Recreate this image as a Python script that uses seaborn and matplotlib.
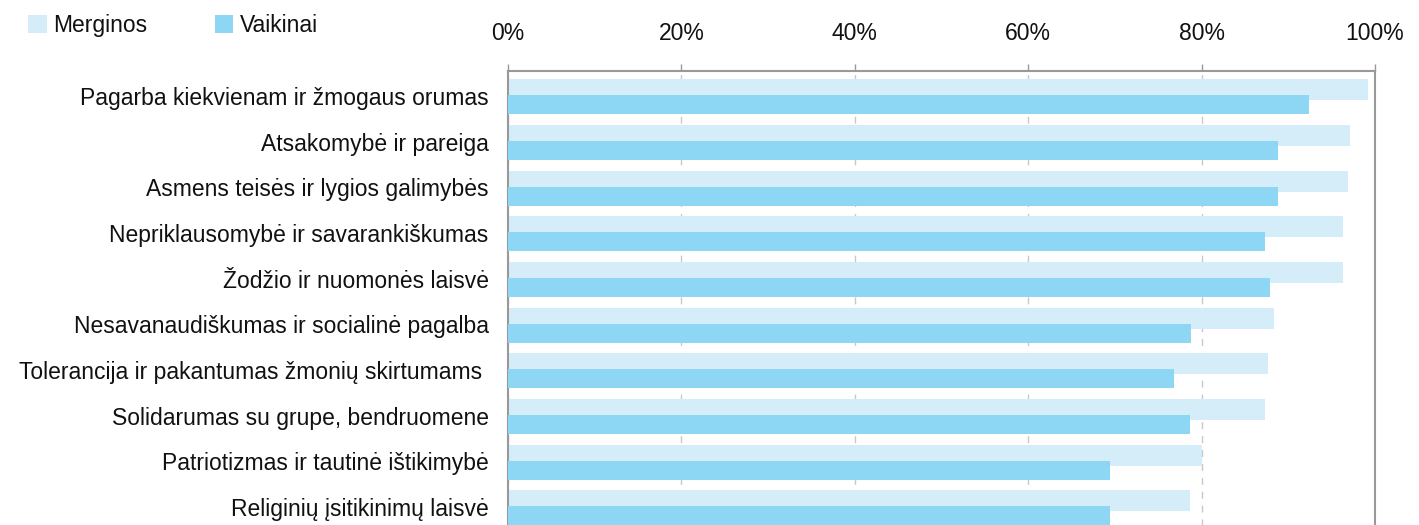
import numpy as np
import pandas as pd
import matplotlib
matplotlib.use("Agg")
import matplotlib.pyplot as plt
import seaborn as sns
from matplotlib.ticker import FixedLocator, FuncFormatter

# Duomenys (nuskaityta iš paveikslo, %)
vertybes = [
    "Pagarba kiekvienam ir žmogaus orumas",
    "Atsakomybė ir pareiga",
    "Asmens teisės ir lygios galimybės",
    "Nepriklausomybė ir savarankiškumas",
    "Žodžio ir nuomonės laisvė",
    "Nesavanaudiškumas ir socialinė pagalba",
    "Tolerancija ir pakantumas žmonių skirtumams ",
    "Solidarumas su grupe, bendruomene",
    "Patriotizmas ir tautinė ištikimybė",
    "Religinių įsitikinimų laisvė",
]
merginos = [99.2, 97.1, 96.9, 96.3, 96.3, 88.4, 87.7, 87.3, 80.0, 78.7]
vaikinai = [92.4, 88.8, 88.8, 87.3, 87.9, 78.8, 76.8, 78.7, 69.4, 69.4]
x_ticks = [0, 20, 40, 60, 80, 100]

spalva_m = "#d5ecf9"
spalva_v = "#8dd7f5"

sns.set_style("white")
plt.rcParams["font.family"] = ["Liberation Sans", "DejaVu Sans"]

poz = np.arange(len(vertybes))
df_m = pd.DataFrame({"y": poz - 0.14, "x": merginos})
df_v = pd.DataFrame({"y": poz + 0.19, "x": vaikinai})

fig = plt.figure(figsize=(14.19, 5.25), dpi=100)
ax = fig.add_axes([508 / 1419, -5 / 525, (1375 - 508) / 1419, (530 - 71) / 525])

sns.barplot(data=df_m, x="x", y="y", orient="h", native_scale=True, linewidth=0,
            width=0.46, color=spalva_m, saturation=1, label="Merginos", ax=ax, zorder=2)
sns.barplot(data=df_v, x="x", y="y", orient="h", native_scale=True, linewidth=0,
            width=0.42, color=spalva_v, saturation=1, label="Vaikinai", ax=ax, zorder=3)

ax.set_xlim(0, 100)
ax.set_ylim(len(vertybes) - 0.5, -0.55)
ax.set_xlabel("")
ax.set_ylabel("")

# x ašis viršuje
ax.xaxis.set_ticks_position("top")
ax.xaxis.set_label_position("top")
ax.set_xticks(x_ticks)
ax.xaxis.set_major_formatter(FuncFormatter(lambda v, p: f"{v:.0f}%"))
ax.tick_params(axis="x", which="major", direction="out", length=5, width=1,
               color="#999999", pad=14, labelsize=16.5, labelcolor="#111111")

# y ašis: žymės tarp kategorijų
ax.yaxis.set_major_locator(FixedLocator(poz))
ax.set_yticklabels(vertybes)
ax.yaxis.set_minor_locator(FixedLocator(poz[1:] - 0.5))
ax.tick_params(axis="y", which="major", length=0, pad=14, labelsize=16.5, labelcolor="#111111")
ax.tick_params(axis="y", which="minor", length=5, width=1, color="#999999", direction="out")

ax.grid(axis="x", color="#c8c8c8", linestyle=(0, (5, 5)), linewidth=1, zorder=0)
ax.set_axisbelow(True)
for s in ["top", "left", "right"]:
    ax.spines[s].set_color("#999999")
    ax.spines[s].set_linewidth(1.5)
ax.spines["bottom"].set_visible(False)

if ax.get_legend():
    ax.get_legend().remove()
h, l = ax.get_legend_handles_labels()
leg = fig.legend(h, l, loc="upper left", bbox_to_anchor=(19 / 1419, 1 - 5 / 525), ncol=2,
                 frameon=False, fontsize=16.5, handlelength=0.8, handleheight=0.85,
                 handletextpad=0.3, columnspacing=2.95, borderaxespad=0)
for t in leg.get_texts():
    t.set_color("#111111")

fig.savefig("out.png", dpi=100)
